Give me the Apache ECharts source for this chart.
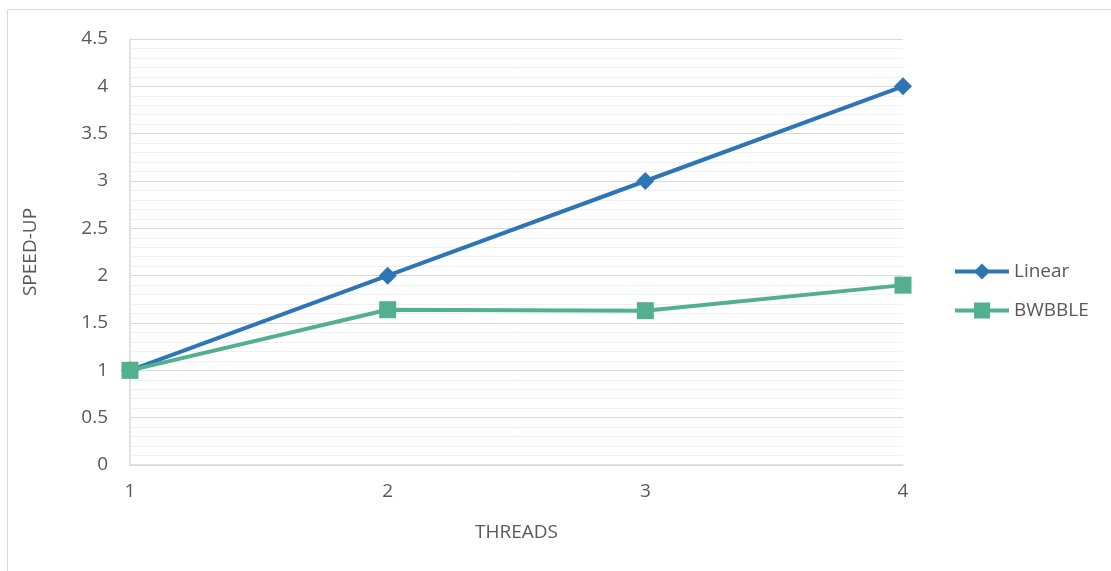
<!DOCTYPE html>
<html>
<head>
<meta charset="utf-8">
<script src="https://cdn.jsdelivr.net/npm/echarts@6/dist/echarts.min.js"></script>
<style>
html,body{margin:0;padding:0;background:#fff;}
#chart{width:1111px;height:571px;}
</style>
</head>
<body>
<div id="chart"></div>
<script>
// 数据
var threads = ['1', '2', '3', '4'];
var linear = [1, 2, 3, 4];
var bwbble = [1, 1.64, 1.63, 1.9];

var chart = echarts.init(document.getElementById('chart'));
var font = '"Open Sans", sans-serif';
var option = {
    animation: false,
    textStyle: {fontFamily: font},
    graphic: [{
        type: 'rect',
        shape: {x: 7.5, y: 9.5, width: 1110, height: 570},
        style: {fill: 'none', stroke: '#d9d9d9', lineWidth: 1},
        silent: true
    }],
    grid: {left: 130, right: 208, top: 39, bottom: 106},
    legend: {
        orient: 'vertical',
        left: 948,
        top: 257,
        itemGap: 20,
        itemWidth: 54,
        itemHeight: 20,
        lineStyle: {width: 4},
        textStyle: {fontSize: 19, color: '#595959', fontFamily: font},
        data: ['Linear', 'BWBBLE']
    },
    xAxis: {
        type: 'category',
        data: threads,
        boundaryGap: false,
        name: 'THREADS',
        nameLocation: 'middle',
        nameGap: 58,
        nameTextStyle: {fontSize: 19, color: '#595959'},
        axisLine: {lineStyle: {color: '#d9d9d9', width: 1.5}},
        axisTick: {show: false},
        axisLabel: {fontSize: 19, color: '#595959', margin: 17},
        splitLine: {show: false}
    },
    yAxis: {
        type: 'value',
        min: 0,
        max: 4.5,
        interval: 0.5,
        name: 'SPEED-UP',
        nameLocation: 'middle',
        nameGap: 90,
        nameTextStyle: {fontSize: 19, color: '#595959'},
        axisLine: {show: true, lineStyle: {color: '#d9d9d9', width: 1.5}},
        axisTick: {show: false},
        axisLabel: {fontSize: 19, color: '#595959', margin: 22},
        splitLine: {lineStyle: {color: '#d9d9d9', width: 1.2}},
        minorTick: {show: false, splitNumber: 5},
        minorSplitLine: {show: true, lineStyle: {color: '#f0f0f0', width: 1}}
    },
    series: [
        {
            name: 'Linear',
            type: 'line',
            data: linear,
            symbol: 'diamond',
            symbolSize: 18,
            itemStyle: {color: '#2e75b6'},
            lineStyle: {color: '#2e75b6', width: 4}
        },
        {
            name: 'BWBBLE',
            type: 'line',
            data: bwbble,
            symbol: 'rect',
            symbolSize: 17,
            itemStyle: {color: '#52b08f'},
            lineStyle: {color: '#52b08f', width: 4}
        }
    ]
};
chart.setOption(option);
</script>
</body>
</html>
